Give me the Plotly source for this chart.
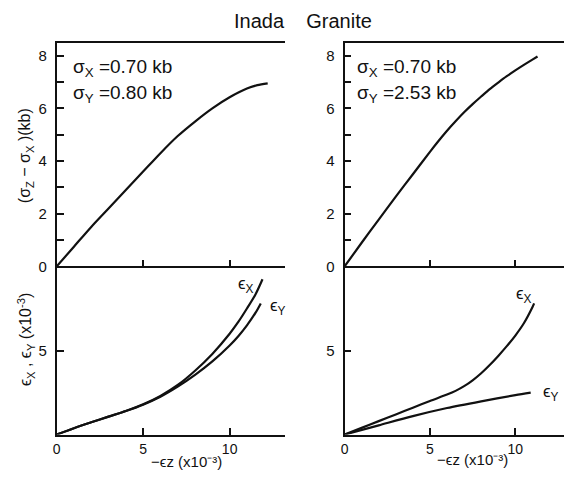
import plotly.graph_objects as go

# Stress difference vs axial strain, -εz (x10^-3) -> (σz - σx) in kb
strain_a = [0, 1, 2, 3, 4, 5, 6, 7, 8, 9, 10, 11, 11.6, 12.2]
stress_a = [0, 0.75, 1.5, 2.2, 2.9, 3.6, 4.3, 4.95, 5.5, 6.0, 6.42, 6.75, 6.88, 6.95]

strain_b = [0, 1, 2, 3, 4, 5, 5.5, 6, 6.5, 7, 7.5, 8, 8.5, 9, 9.5, 10, 10.5, 11, 11.3]
stress_b = [0, 0.9, 1.78, 2.65, 3.5, 4.35, 4.76, 5.15, 5.51, 5.85, 6.16, 6.45, 6.73, 6.98, 7.22, 7.44, 7.65, 7.85, 7.97]

# Lateral strains vs axial strain (x10^-3)
ez_a = [0, 1, 2, 3, 4, 5, 6, 7, 8, 9, 10, 10.5, 11, 11.5, 11.9]
ex_a = [0, 0.38, 0.73, 1.07, 1.4, 1.8, 2.3, 2.95, 3.8, 4.8, 6.0, 6.7, 7.5, 8.35, 9.24]
ez_a_y = [0, 1, 2, 3, 4, 5, 6, 7, 8, 9, 10, 10.5, 11, 11.5, 11.8]
ey_a = [0, 0.38, 0.73, 1.07, 1.4, 1.78, 2.25, 2.85, 3.55, 4.35, 5.3, 5.85, 6.5, 7.25, 7.8]

ez_b = [0, 1, 2, 3, 4, 5, 6, 6.5, 7, 7.5, 8, 8.5, 9, 9.5, 10, 10.5, 11, 11.1]
ex_b = [0, 0.4, 0.8, 1.2, 1.6, 2.0, 2.38, 2.6, 2.88, 3.23, 3.65, 4.14, 4.68, 5.26, 5.89, 6.62, 7.57, 7.8]
ez_b_y = [0, 2, 4, 6, 8, 10, 10.9]
ey_b = [0, 0.55, 1.1, 1.58, 1.98, 2.35, 2.5]

# Confining stresses for each test
sigma_x = ["0.70", "0.70"]
sigma_y = ["0.80", "2.53"]

stress_ticks = [0, 1, 2, 3, 4, 5, 6, 7, 8]
stress_ticktext = ["0", "", "2", "", "4", "", "6", "", "8"]

W, H = 564, 477
FONT = "Liberation Sans, Arial, sans-serif"
INK = "#111111"


def px_x(p):
    return p / W


def px_y(p):
    return 1 - p / H


left_dom = [px_x(53), px_x(283)]
right_dom = [px_x(343), 1.0]
top_dom = [px_y(271), px_y(44)]
bot_dom = [px_y(442), px_y(271)]

line_style = dict(color=INK, width=2.2, shape="spline", smoothing=0.8)

fig = go.Figure()
fig.add_trace(go.Scatter(x=strain_a, y=stress_a, mode="lines", line=line_style, xaxis="x", yaxis="y"))
fig.add_trace(go.Scatter(x=strain_b, y=stress_b, mode="lines", line=line_style, xaxis="x2", yaxis="y2"))
fig.add_trace(go.Scatter(x=ez_a, y=ex_a, mode="lines", line=line_style, xaxis="x3", yaxis="y3"))
fig.add_trace(go.Scatter(x=ez_a_y, y=ey_a, mode="lines", line=line_style, xaxis="x3", yaxis="y3"))
fig.add_trace(go.Scatter(x=ez_b, y=ex_b, mode="lines", line=line_style, xaxis="x4", yaxis="y4"))
fig.add_trace(go.Scatter(x=ez_b_y, y=ey_b, mode="lines", line=line_style, xaxis="x4", yaxis="y4"))

axis_common = dict(
    showline=True, linecolor=INK, linewidth=1.8, showgrid=False, zeroline=False,
    ticks="inside", ticklen=7, tickwidth=1.5, tickcolor=INK,
    tickfont=dict(family=FONT, size=15, color=INK), fixedrange=True,
)
xtick_font = dict(family=FONT, size=14, color=INK)

layout = dict(
    width=W, height=H, margin=dict(l=0, r=0, t=0, b=0),
    paper_bgcolor="white", plot_bgcolor="white", showlegend=False,
    font=dict(family=FONT, color=INK),
    xaxis=dict(axis_common, domain=left_dom, range=[0, 13.2], anchor="y",
               tickmode="array", tickvals=[5, 10], showticklabels=False, mirror=True),
    yaxis=dict(axis_common, domain=top_dom, range=[0, 8.47], anchor="x",
               tickmode="array", tickvals=stress_ticks, ticktext=stress_ticktext,
               ticklabelstandoff=5),
    xaxis2=dict(axis_common, domain=right_dom, range=[0, 12.85], anchor="y2",
                tickmode="array", tickvals=[5, 10], showticklabels=False, mirror=True),
    yaxis2=dict(axis_common, domain=top_dom, range=[0, 8.47], anchor="x2",
                tickmode="array", tickvals=stress_ticks, ticktext=stress_ticktext,
                ticklabelstandoff=5),
    xaxis3=dict(axis_common, domain=left_dom, range=[0, 13.2], anchor="y3",
                tickmode="array", tickvals=[0, 5, 10], ticktext=["0", "5", "10"],
                tickfont=xtick_font, ticklabelstandoff=1),
    yaxis3=dict(axis_common, domain=bot_dom, range=[0, 10], anchor="x3",
                tickmode="array", tickvals=[5], ticktext=["5"], ticklabelstandoff=5),
    xaxis4=dict(axis_common, domain=right_dom, range=[0, 12.85], anchor="y4",
                tickmode="array", tickvals=[0, 5, 10], ticktext=["0", "5", "10"],
                tickfont=xtick_font, ticklabelstandoff=1),
    yaxis4=dict(axis_common, domain=bot_dom, range=[0, 10], anchor="x4",
                tickmode="array", tickvals=[5], ticktext=["5"], ticklabelstandoff=5),
)
fig.update_layout(**layout)

ann = []
# Title
ann.append(dict(text="Inada    Granite", xref="paper", yref="paper", x=px_x(301), y=px_y(21),
                showarrow=False, font=dict(family=FONT, size=20, color=INK),
                xanchor="center", yanchor="middle"))

# Confining stress labels
for i, (xr, yr, x0) in enumerate([("x", "y", 0.85), ("x2", "y2", 0.6)]):
    ann.append(dict(text="σ<sub>X</sub> =" + sigma_x[i] + " kb", xref=xr, yref=yr, x=x0, y=7.55,
                    showarrow=False, xanchor="left", yanchor="middle",
                    font=dict(family=FONT, size=19, color=INK)))
    ann.append(dict(text="σ<sub>Y</sub> =" + sigma_y[i] + " kb", xref=xr, yref=yr, x=x0, y=6.55,
                    showarrow=False, xanchor="left", yanchor="middle",
                    font=dict(family=FONT, size=19, color=INK)))

# Curve labels
curve_labels = [
    ("x3", "y3", 10.95, 8.9, "ϵ<sub>X</sub>"),
    ("x3", "y3", 12.8, 7.6, "ϵ<sub>Y</sub>"),
    ("x4", "y4", 10.5, 8.3, "ϵ<sub>X</sub>"),
    ("x4", "y4", 12.1, 2.5, "ϵ<sub>Y</sub>"),
]
for xr, yr, x0, y0, t in curve_labels:
    ann.append(dict(text=t, xref=xr, yref=yr, x=x0, y=y0, showarrow=False,
                    xanchor="center", yanchor="middle",
                    font=dict(family=FONT, size=17, color=INK)))

# Axis titles
ann.append(dict(text="(σ<sub>Z</sub> − σ<sub>X</sub> )(kb)", xref="paper", yref="paper",
                x=px_x(22), y=px_y(158), textangle=-90, showarrow=False,
                xanchor="center", yanchor="middle", font=dict(family=FONT, size=16, color=INK)))
ann.append(dict(text="ϵ<sub>X</sub> , ϵ<sub>Y</sub> (x10<sup>-3</sup>)", xref="paper", yref="paper",
                x=px_x(22), y=px_y(345), textangle=-90, showarrow=False,
                xanchor="center", yanchor="middle", font=dict(family=FONT, size=16, color=INK)))
for xc, yc in ((184, 469), (472, 467)):
    ann.append(dict(text="−ϵz (x10⁻³)", xref="paper", yref="paper",
                    x=px_x(xc), y=px_y(yc), showarrow=False,
                    xanchor="center", yanchor="middle", borderpad=0,
                    font=dict(family=FONT, size=15, color=INK)))

fig.update_layout(annotations=ann)
fig.write_html("out.html")
